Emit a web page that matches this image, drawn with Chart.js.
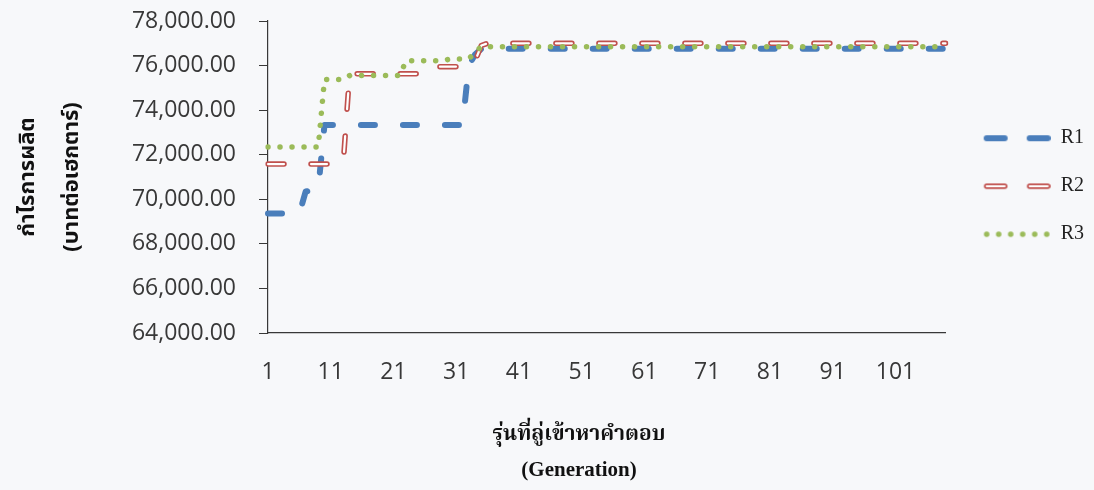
<!DOCTYPE html>
<html>
<head>
<meta charset="utf-8">
<script src="https://cdn.jsdelivr.net/npm/chart.js@4.4.1/dist/chart.umd.min.js"></script>
<style>
  html, body { margin: 0; padding: 0; background: #f7f8fa; }
  #wrap { position: relative; width: 1094px; height: 490px; }
</style>
</head>
<body>
<div id="wrap"><canvas id="profit-chart" width="1094" height="490"></canvas></div>
<script>
// generations 1..109 on the category axis
const generations = [];
for (let g = 1; g <= 109; g++) generations.push(String(g));

const yTitle = ['กำไรการผลิต', '(บาทต่อเฮกตาร์)'];
const xTitle = 'รุ่นที่ลู่เข้าหาคำตอบ';
const xSubTitle = '(Generation)';

const r1 = [
    69360, 69360, 69360, 69360, 69360, 69360, 70350, 70400, 70450, 73330,
    73330, 73330, 73330, 73330, 73330, 73330, 73330, 73330, 73330, 73330,
    73330, 73330, 73330, 73330, 73330, 73330, 73330, 73330, 73330, 73330,
    73330, 73330, 76000, 76500, 76750, 76750, 76750, 76750, 76750, 76750,
    76750, 76750, 76750, 76750, 76750, 76750, 76750, 76750, 76750, 76750,
    76750, 76750, 76750, 76750, 76750, 76750, 76750, 76750, 76750, 76750,
    76750, 76750, 76750, 76750, 76750, 76750, 76750, 76750, 76750, 76750,
    76750, 76750, 76750, 76750, 76750, 76750, 76750, 76750, 76750, 76750,
    76750, 76750, 76750, 76750, 76750, 76750, 76750, 76750, 76750, 76750,
    76750, 76750, 76750, 76750, 76750, 76750, 76750, 76750, 76750, 76750,
    76750, 76750, 76750, 76750, 76750, 76750, 76750, 76750, 76750
];

const r2 = [
    71580, 71580, 71580, 71580, 71580, 71580, 71580, 71580, 71580, 71580,
    71580, 71580, 71650, 75630, 75630, 75630, 75630, 75630, 75630, 75630,
    75630, 75630, 75630, 75630, 75630, 75630, 75950, 75950, 75950, 75950,
    75950, 75950, 75950, 76200, 76900, 77000, 77000, 77000, 77000, 77000,
    77000, 77000, 77000, 77000, 77000, 77000, 77000, 77000, 77000, 77000,
    77000, 77000, 77000, 77000, 77000, 77000, 77000, 77000, 77000, 77000,
    77000, 77000, 77000, 77000, 77000, 77000, 77000, 77000, 77000, 77000,
    77000, 77000, 77000, 77000, 77000, 77000, 77000, 77000, 77000, 77000,
    77000, 77000, 77000, 77000, 77000, 77000, 77000, 77000, 77000, 77000,
    77000, 77000, 77000, 77000, 77000, 77000, 77000, 77000, 77000, 77000,
    77000, 77000, 77000, 77000, 77000, 77000, 77000, 77000, 77000
];

const r3 = [
    72345, 72345, 72345, 72345, 72345, 72345, 72345, 72345, 72345, 75370,
    75370, 75370, 75370, 75550, 75550, 75550, 75550, 75550, 75550, 75550,
    75550, 75550, 76220, 76220, 76220, 76220, 76220, 76220, 76220, 76300,
    76300, 76300, 76300, 76600, 76850, 76850, 76850, 76850, 76850, 76850,
    76850, 76850, 76850, 76850, 76850, 76850, 76850, 76850, 76850, 76850,
    76850, 76850, 76850, 76850, 76850, 76850, 76850, 76850, 76850, 76850,
    76850, 76850, 76850, 76850, 76850, 76850, 76850, 76850, 76850, 76850,
    76850, 76850, 76850, 76850, 76850, 76850, 76850, 76850, 76850, 76850,
    76850, 76850, 76850, 76850, 76850, 76850, 76850, 76850, 76850, 76850,
    76850, 76850, 76850, 76850, 76850, 76850, 76850, 76850, 76850, 76850,
    76850, 76850, 76850, 76850, 76850, 76850, 76850, 76850, 76850
];

const yMin = 64000;
const yMax = 78000;
const yStep = 2000;

const blue = '#4a7ebb';
const red = '#c0504d';
const green = '#9bbb59';

const thaiFont = "'Noto Sans Thai', 'Noto Serif Thai', 'Norasi', 'Garuda', 'Loma', 'Tlwg Typo', 'DejaVu Sans', sans-serif";
const thaiSerif = "'Noto Serif Thai', 'Norasi', 'Noto Sans Thai', 'Garuda', 'Liberation Serif', serif";
const tickFont = { family: "'Open Sans', 'Noto Sans', sans-serif", size: 23 };
const axisColor = '#383838';

// small canvases used as legend symbols, so the legend keeps the dash / dot look
function legendSample(color, width, dash, core) {
    const c = document.createElement('canvas');
    c.width = 77;
    c.height = 12;
    const g = c.getContext('2d');
    g.lineCap = 'round';
    g.setLineDash(dash);
    g.strokeStyle = color;
    g.lineWidth = width;
    g.beginPath();
    g.moveTo(13, 6);
    g.lineTo(75, 6);
    g.stroke();
    if (core) {
        g.strokeStyle = '#ffffff';
        g.lineWidth = core;
        g.stroke();
    }
    return c;
}

const legendSamples = [
    legendSample(blue, 6, [18, 25]),
    legendSample(red, 5.5, [18, 25], 2.2),
    null,
    legendSample(green, 5.5, [0.01, 12])
];

// the two lines under the x axis are drawn here so they can sit a bit left of centre like the original
const bottomTitles = {
    id: 'bottomTitles',
    afterDraw(chart) {
        const { ctx, chartArea } = chart;
        const cx = chartArea.left + chartArea.width * 0.459;
        ctx.save();
        ctx.fillStyle = '#111';
        ctx.textAlign = 'center';
        ctx.textBaseline = 'middle';
        ctx.font = `bold 21px ${thaiSerif}`;
        ctx.fillText(xTitle, cx, chartArea.bottom + 104);
        ctx.font = "bold 21px 'Liberation Serif', 'Times New Roman', serif";
        ctx.fillText(xSubTitle, cx, chartArea.bottom + 138);
        ctx.restore();
    }
};

const ctx = document.getElementById('profit-chart').getContext('2d');
const profitChart = new Chart(ctx, {
    type: 'line',
    data: {
        labels: generations,
        datasets: [
            {
                label: 'R1',
                data: r1,
                borderColor: blue,
                borderWidth: 6,
                borderDash: [14, 28],
                borderCapStyle: 'round',
                borderJoinStyle: 'round',
                order: 4
            },
            {
                label: 'R2',
                data: r2,
                borderColor: red,
                borderWidth: 5.5,
                borderDash: [16, 27],
                borderCapStyle: 'round',
                borderJoinStyle: 'round',
                order: 3
            },
            {
                // white core on top of R2 so its dashes look hollow
                label: 'R2 core',
                data: r2,
                borderColor: '#ffffff',
                borderWidth: 2.2,
                borderDash: [16, 27],
                borderCapStyle: 'round',
                borderJoinStyle: 'round',
                hideLegend: true,
                order: 2
            },
            {
                label: 'R3',
                data: r3,
                borderColor: green,
                borderWidth: 5.5,
                borderDash: [0.01, 12],
                borderCapStyle: 'round',
                borderJoinStyle: 'round',
                order: 1
            }
        ]
    },
    options: {
        responsive: false,
        animation: false,
        layout: {
            padding: { top: 21, right: 0, bottom: 0, left: 0 }
        },
        elements: {
            point: { radius: 0 },
            line: { tension: 0 }
        },
        plugins: {
            tooltip: { enabled: false },
            legend: {
                position: 'right',
                fullSize: false,
                // empty title only nudges the entries down a little
                title: {
                    display: true,
                    text: '',
                    padding: { top: 2, bottom: 2 },
                    font: { size: 12, lineHeight: 1.2 }
                },
                labels: {
                    usePointStyle: true,
                    pointStyleWidth: 77,
                    padding: 28,
                    color: '#222',
                    font: { family: "'Liberation Serif', 'Times New Roman', serif", size: 20 },
                    generateLabels: chart => Chart.defaults.plugins.legend.labels.generateLabels(chart)
                        .map(item => ({ ...item, pointStyle: legendSamples[item.datasetIndex] })),
                    filter: (item, data) => !data.datasets[item.datasetIndex].hideLegend,
                    sort: (a, b) => a.datasetIndex - b.datasetIndex
                }
            }
        },
        scales: {
            x: {
                offset: false,
                afterFit: scale => { scale.height = 157; },
                grid: { display: false, drawTicks: false },
                border: { display: true, color: axisColor, width: 1.2 },
                ticks: {
                    autoSkip: false,
                    maxRotation: 0,
                    padding: 26,
                    color: axisColor,
                    font: tickFont,
                    callback: function (value, index) {
                        return index % 10 === 0 ? this.getLabelForValue(value) : '';
                    }
                }
            },
            y: {
                min: yMin,
                max: yMax,
                afterFit: scale => {
                    scale.width = 268;
                    // tick padding would otherwise push the plot down
                    scale.paddingTop = 0;
                },
                grid: { drawOnChartArea: false, drawTicks: true, tickLength: 9, color: axisColor },
                border: { display: true, color: axisColor, width: 1.2 },
                ticks: {
                    stepSize: yStep,
                    padding: 23,
                    color: axisColor,
                    font: tickFont,
                    callback: value => value.toLocaleString('en-US', { minimumFractionDigits: 2, maximumFractionDigits: 2 })
                },
                title: {
                    display: true,
                    text: yTitle,
                    color: '#111',
                    padding: { top: 8, bottom: 0 },
                    font: { family: thaiFont, size: 22, weight: 'bold', lineHeight: 2 }
                }
            }
        }
    },
    plugins: [bottomTitles]
});
</script>
</body>
</html>
